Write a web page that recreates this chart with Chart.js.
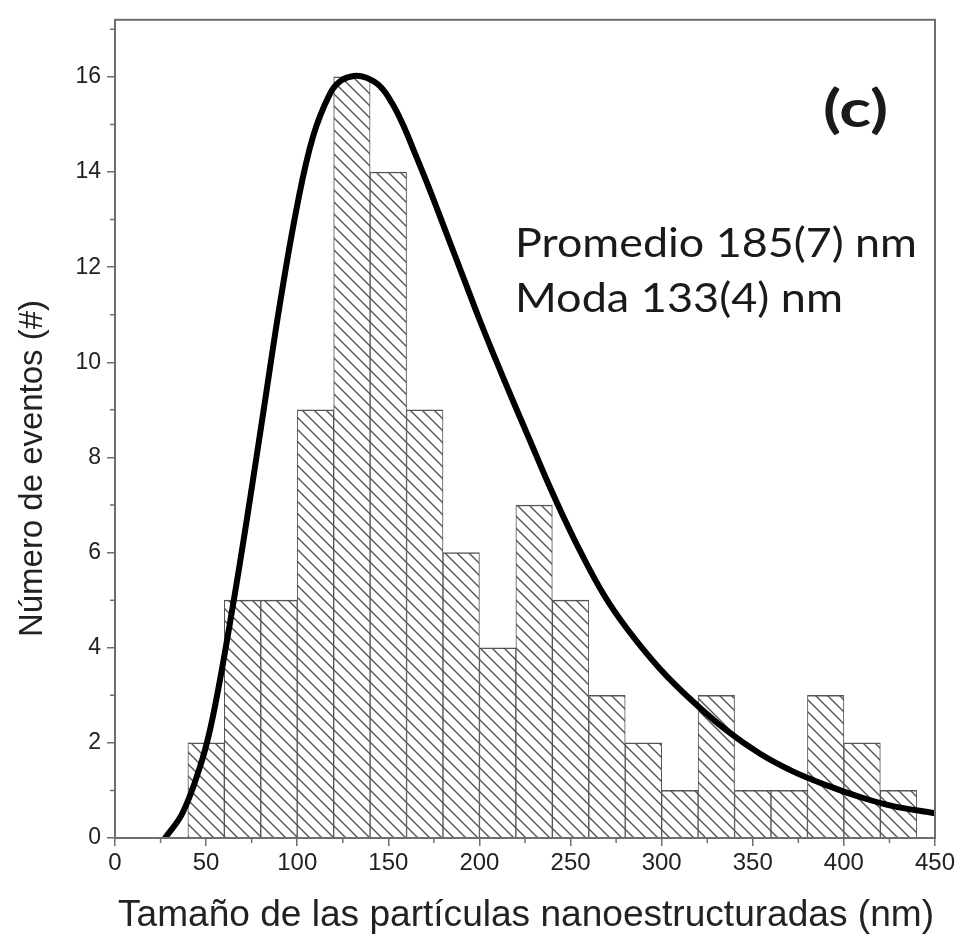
<!DOCTYPE html>
<html>
<head>
<meta charset="utf-8">
<script src="https://cdn.jsdelivr.net/npm/chart.js@4.4.1/dist/chart.umd.min.js"></script>
<style>
  html, body { margin: 0; padding: 0; background: #fff; }
  #wrap { width: 965px; height: 947px; }
</style>
</head>
<body>
<div id="wrap"><canvas id="histChart" width="965" height="947"></canvas></div>
<script>
// histogram: centre of each 20 nm bin and its count
const binCenters = [50, 70, 90, 110, 130, 150, 170, 190, 210, 230, 250, 270, 290, 310, 330, 350, 370, 390, 410, 430];
const binCounts = [2, 5, 5, 9, 16, 14, 9, 6, 4, 7, 5, 3, 2, 1, 3, 1, 1, 3, 2, 1];

// fitted curve, points
const fitX = [27.5, 37, 46.5, 52, 57.5, 63, 68, 74, 81, 90.6, 100, 108.7, 118, 124, 131, 138, 145.5, 152, 158,
              164, 173, 182, 191, 200, 209, 218.6, 228, 237, 246, 255, 268, 281, 299, 317, 336, 354, 372,
              391, 409, 427, 450];
const fitY = [0, 0.52, 1.48, 2.25, 3.3, 4.5, 5.65, 7.1, 8.85, 11.25, 13.3, 14.75, 15.65, 15.92, 16.02, 15.98, 15.8, 15.45, 15.0,
              14.45, 13.6, 12.7, 11.8, 10.9, 10.05, 9.17, 8.33, 7.52, 6.76, 6.05, 5.13, 4.4, 3.56, 2.875, 2.25, 1.77, 1.4,
              1.1, 0.86, 0.67, 0.52];

const xTicks = [0, 50, 100, 150, 200, 250, 300, 350, 400, 450];
const yTicks = [0, 2, 4, 6, 8, 10, 12, 14, 16];
const xMinorTicks = [25, 75, 125, 175, 225, 275, 325, 375, 425];
const yMinorTicks = [1, 3, 5, 7, 9, 11, 13, 15, 17];

const xTitle = 'Tamaño de las partículas nanoestructuradas (nm)';
const yTitle = 'Número de eventos (#)';
const panelLabel = '(c)';
const statLines = ['Promedio 185(7) nm', 'Moda 133(4) nm'];

const axisColor = '#6e6e6e';
const textColor = '#222';

// diagonal hatch for the bars
function makeHatch() {
    const size = 12;
    const c = document.createElement('canvas');
    c.width = size;
    c.height = size;
    const g = c.getContext('2d');
    g.fillStyle = '#fff';
    g.fillRect(0, 0, size, size);
    g.strokeStyle = '#555';
    g.lineWidth = 1.4;
    g.beginPath();
    g.moveTo(-2, -2); g.lineTo(size + 2, size + 2);
    g.moveTo(-2, size - 2); g.lineTo(2, size + 2);
    g.moveTo(size - 2, -2); g.lineTo(size + 2, 2);
    g.stroke();
    return g.createPattern(c, 'repeat');
}

// draw text squeezed/stretched to a given width
function fitText(ctx, text, x, y, width, font) {
    ctx.font = font;
    const w = ctx.measureText(text).width;
    ctx.save();
    ctx.translate(x, y);
    ctx.scale(width / w, 1);
    ctx.textAlign = 'left';
    ctx.fillText(text, 0, 0);
    ctx.restore();
}

const decorPlugin = {
    id: 'decor',
    afterDraw(chart) {
        const ctx = chart.ctx;
        const area = chart.chartArea;
        const xs = chart.scales.x;
        const ys = chart.scales.y;

        ctx.save();
        // frame
        ctx.strokeStyle = axisColor;
        ctx.lineWidth = 2;
        ctx.strokeRect(area.left, area.top, area.right - area.left, area.bottom - area.top);

        // minor ticks
        ctx.lineWidth = 1.5;
        ctx.beginPath();
        xMinorTicks.forEach(v => {
            const px = xs.getPixelForValue(v);
            ctx.moveTo(px, area.bottom);
            ctx.lineTo(px, area.bottom + 5);
        });
        yMinorTicks.forEach(v => {
            const py = ys.getPixelForValue(v);
            ctx.moveTo(area.left, py);
            ctx.lineTo(area.left - 5, py);
        });
        ctx.stroke();

        // axis titles
        ctx.fillStyle = textColor;
        ctx.textBaseline = 'alphabetic';
        fitText(ctx, xTitle, 118, 926, 816, '37px "Liberation Sans", Arial, sans-serif');

        ctx.save();
        ctx.translate(42, 637);
        ctx.rotate(-Math.PI / 2);
        fitText(ctx, yTitle, 0, 0, 337, '33px "Liberation Sans", Arial, sans-serif');
        ctx.restore();

        // annotations
        ctx.fillStyle = '#1a1a1a';
        fitText(ctx, panelLabel, 823, 127, 65, 'bold 52px Lato, "Open Sans", sans-serif');
        fitText(ctx, statLines[0], 515, 257, 402, '40px Lato, "Open Sans", sans-serif');
        fitText(ctx, statLines[1], 515, 312, 328, '40px Lato, "Open Sans", sans-serif');
        ctx.restore();
    }
};

const ctx = document.getElementById('histChart').getContext('2d');
new Chart(ctx, {
    type: 'bar',
    data: {
        datasets: [
            {
                type: 'line',
                label: 'Ajuste',
                data: fitX.map((x, i) => ({ x: x, y: fitY[i] })),
                borderColor: '#000',
                borderWidth: 6,
                borderCapStyle: 'round',
                borderJoinStyle: 'round',
                pointRadius: 0,
                fill: false,
                tension: 0.4,
                order: 0
            },
            {
                type: 'bar',
                label: 'Eventos',
                data: binCenters.map((x, i) => ({ x: x, y: binCounts[i] })),
                backgroundColor: makeHatch(),
                borderColor: '#555',
                borderWidth: { top: 1.5, left: 1, right: 1, bottom: 0 },
                borderSkipped: false,
                barPercentage: 1,
                categoryPercentage: 1,
                order: 1
            }
        ]
    },
    options: {
        responsive: false,
        animation: false,
        layout: { padding: { top: 11, right: 30, left: 0, bottom: 0 } },
        plugins: {
            legend: { display: false },
            tooltip: { enabled: false }
        },
        scales: {
            x: {
                type: 'linear',
                min: 0,
                max: 450,
                offset: false,
                afterBuildTicks: scale => { scale.ticks = xTicks.map(v => ({ value: v })); },
                afterFit: scale => { scale.height = 109; },
                grid: { offset: false, drawOnChartArea: false, drawTicks: true, tickLength: 8, color: axisColor, lineWidth: 1.5 },
                border: { display: true, color: axisColor, width: 2 },
                ticks: {
                    padding: 3,
                    maxRotation: 0,
                    color: textColor,
                    font: { family: '"Liberation Sans", Arial, sans-serif', size: 24 }
                }
            },
            y: {
                min: 0,
                max: 17.2,
                afterBuildTicks: scale => { scale.ticks = yTicks.map(v => ({ value: v })); },
                afterFit: scale => { scale.width = 115; },
                grid: { drawOnChartArea: false, drawTicks: true, tickLength: 8, color: axisColor, lineWidth: 1.5 },
                border: { display: true, color: axisColor, width: 2 },
                ticks: {
                    padding: 6,
                    color: textColor,
                    font: { family: '"Liberation Sans", Arial, sans-serif', size: 23 }
                }
            }
        }
    },
    plugins: [decorPlugin]
});
</script>
</body>
</html>
